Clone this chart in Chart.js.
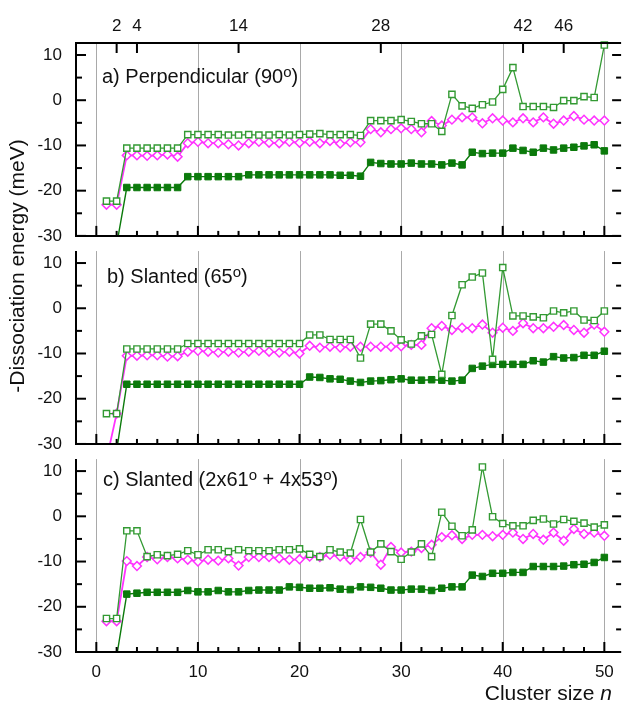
<!DOCTYPE html>
<html>
<head>
<meta charset="utf-8">
<title>Dissociation energy vs cluster size</title>
<script src="https://cdn.jsdelivr.net/npm/chart.js@4.4.1/dist/chart.umd.min.js"></script>
<style>
  body { margin: 0; background: #fff; }
  #wrap { position: relative; width: 627px; height: 702px; }
</style>
</head>
<body>
<div id="wrap"><canvas id="dissociation" width="627" height="702"></canvas></div>
<script>
const clusterSizes = [1, 2, 3, 4, 5, 6, 7, 8, 9, 10, 11, 12, 13, 14, 15, 16, 17, 18, 19, 20,
  21, 22, 23, 24, 25, 26, 27, 28, 29, 30, 31, 32, 33, 34, 35, 36, 37, 38, 39, 40,
  41, 42, 43, 44, 45, 46, 47, 48, 49, 50];
const topTicks = [2, 4, 14, 28, 42, 46];
const xTicks = [0, 10, 20, 30, 40, 50];
const yTicks = [-30, -20, -10, 0, 10];

// a) Perpendicular
const openA = [-22.3, -22.3, -10.6, -10.6, -10.6, -10.6, -10.6, -10.6, -7.6, -7.6,
  -7.6, -7.6, -7.7, -7.7, -7.6, -7.7, -7.7, -7.6, -7.7, -7.6,
  -7.5, -7.4, -7.6, -7.6, -7.6, -7.8, -4.5, -4.5, -4.5, -4.3,
  -4.7, -5.2, -5.2, -6.9, 1.3, -1.25, -1.8, -1.0, -0.4, 2.4,
  7.2, -1.4, -1.4, -1.4, -1.6, -0.1, -0.1, 0.8, 0.6, 12.2];
const diamondA = [-23.1, -23.1, -12.2, -12.2, -12.3, -12.2, -12.0, -12.5, -9.5, -9.2,
  -9.5, -9.5, -9.75, -10.0, -9.5, -9.2, -9.4, -9.5, -9.2, -9.4,
  -9.2, -9.5, -9.0, -9.6, -9.3, -9.3, -6.4, -7.1, -6.4, -6.2,
  -6.4, -7.1, -4.6, -5.6, -4.3, -3.8, -3.8, -5.1, -4.0, -4.5,
  -4.9, -4.0, -4.9, -3.8, -5.2, -4.5, -3.5, -4.3, -4.5, -4.5];
const filledA = [-35, -32, -19.3, -19.3, -19.3, -19.3, -19.3, -19.3, -16.9, -16.9,
  -16.9, -16.9, -16.9, -16.9, -16.5, -16.5, -16.5, -16.5, -16.5, -16.5,
  -16.5, -16.5, -16.5, -16.6, -16.6, -16.8, -13.75, -14.0, -14.1, -14.1,
  -13.9, -14.1, -14.1, -14.3, -13.9, -14.3, -11.5, -11.8, -11.7, -11.7,
  -10.6, -11.1, -11.5, -10.6, -11.0, -10.6, -10.4, -10.1, -9.85, -11.2];

// b) Slanted 65
const openB = [-23.3, -23.3, -9.0, -9.0, -9.0, -9.0, -9.0, -9.0, -7.8, -7.8,
  -7.8, -7.8, -7.8, -7.8, -7.8, -7.8, -7.8, -7.8, -7.8, -7.8,
  -5.9, -5.9, -6.9, -6.9, -6.9, -11.0, -3.5, -3.5, -5.0, -7.0,
  -7.9, -6.1, -5.8, -14.6, -1.6, 5.2, 6.9, 7.8, -11.3, 9.0,
  -1.7, -1.7, -1.9, -2.1, -0.6, -1.0, -0.6, -2.6, -2.7, -0.6];
const diamondB = [-33.5, -23.3, -10.5, -10.5, -10.4, -10.4, -10.7, -10.6, -9.6, -9.4,
  -9.6, -9.8, -9.6, -9.8, -9.6, -9.4, -9.6, -9.8, -9.6, -10.0,
  -8.3, -8.7, -8.5, -8.7, -8.5, -8.5, -8.5, -8.5, -8.5, -8.4,
  -8.1, -8.1, -4.4, -3.9, -4.8, -4.3, -4.4, -3.6, -5.4, -4.3,
  -5.0, -3.3, -4.4, -4.4, -4.1, -3.7, -4.8, -5.4, -3.6, -5.2];
const filledB = [-35, -31.5, -16.8, -16.8, -16.8, -16.8, -16.8, -16.8, -16.8, -16.8,
  -16.8, -16.8, -16.8, -16.8, -16.8, -16.8, -16.8, -16.8, -16.8, -16.8,
  -15.2, -15.3, -15.6, -15.7, -16.1, -16.4, -16.1, -16.0, -15.8, -15.6,
  -15.9, -15.9, -15.8, -15.9, -16.1, -15.9, -13.3, -12.8, -12.4, -12.4,
  -12.4, -12.4, -11.6, -11.9, -10.7, -11.0, -10.9, -10.4, -10.4, -9.5];

// c) Slanted 2x61 + 4x53
const openC = [-22.6, -22.6, -3.2, -3.2, -8.9, -8.5, -8.7, -8.4, -7.6, -8.5,
  -7.4, -7.4, -7.8, -7.4, -7.6, -7.6, -7.6, -7.4, -7.4, -7.2,
  -8.4, -8.9, -7.4, -7.9, -8.1, -0.7, -7.9, -6.1, -7.8, -9.5,
  -7.9, -6.1, -8.9, 0.9, -2.2, -4.3, -3.0, 10.9, -0.1, -1.6,
  -2.1, -2.1, -0.9, -0.6, -1.7, -0.7, -1.1, -1.5, -2.4, -1.9];
const diamondC = [-23.2, -23.2, -9.9, -11.0, -9.0, -9.5, -9.0, -9.3, -9.6, -10.0,
  -9.6, -9.8, -9.3, -10.9, -9.0, -9.0, -9.0, -9.3, -9.6, -9.5,
  -8.9, -9.0, -8.5, -8.9, -9.6, -9.0, -8.0, -10.7, -6.8, -8.0,
  -7.8, -7.0, -6.3, -4.6, -4.2, -5.0, -4.1, -4.1, -4.4, -4.1,
  -3.6, -5.0, -3.9, -5.2, -3.6, -5.4, -2.8, -3.9, -3.6, -4.3];
const filledC = [-31, -31, -17.2, -17.0, -16.8, -16.8, -16.8, -16.8, -16.4, -16.7,
  -16.7, -16.4, -16.7, -16.7, -16.4, -16.3, -16.3, -16.3, -15.6, -15.7,
  -15.9, -15.9, -15.8, -16.1, -16.2, -15.6, -15.7, -15.9, -16.3, -16.3,
  -16.1, -16.1, -16.4, -15.9, -15.6, -15.6, -13.0, -13.3, -12.6, -12.6,
  -12.4, -12.4, -11.1, -11.1, -11.1, -11.0, -10.7, -10.6, -10.2, -9.1];

const panelIds = ['ya', 'yb', 'yc'];
const panelMax = [12.65, 16, 16];
const frameTop = 12.65;
const panelTitles = [
  [['a) Perpendicular (90'], ['o', 1], [')']],
  [['b) Slanted (65'], ['o', 1], [')']],
  [['c) Slanted (2x61'], ['o', 1], [' + 4x53'], ['o', 1], [')']]
];
const series = [[openA, diamondA, filledA], [openB, diamondB, filledB], [openC, diamondC, filledC]];

const FONT = '"Liberation Sans", Arial, sans-serif';
const openGreen = '#339a33';
const darkGreen = '#0b7a0b';
const magenta = '#ff33ff';

function points(values) {
  return clusterSizes.map((n, i) => ({ x: n, y: values[i] }));
}

const datasets = [];
series.forEach((s, p) => {
  datasets.push({
    data: points(s[0]), yAxisID: panelIds[p],
    borderColor: openGreen, borderWidth: 1.3, backgroundColor: '#fff',
    pointStyle: 'rect', pointRadius: 4.4, pointBorderWidth: 1.4,
    pointBorderColor: openGreen, pointBackgroundColor: '#fff', clip: 8
  });
  datasets.push({
    data: points(s[1]), yAxisID: panelIds[p],
    borderColor: magenta, borderWidth: 1.8, backgroundColor: '#fff',
    pointStyle: 'rectRot', pointRadius: 4.4, pointBorderWidth: 1.5,
    pointBorderColor: magenta, pointBackgroundColor: '#fff', clip: 8
  });
  datasets.push({
    data: points(s[2]), yAxisID: panelIds[p],
    borderColor: darkGreen, borderWidth: 1.4, backgroundColor: darkGreen,
    pointStyle: 'rect', pointRadius: 4.6, pointBorderWidth: 1,
    pointBorderColor: darkGreen, pointBackgroundColor: darkGreen, clip: 8
  });
});

function drawRich(ctx, parts, x, y) {
  parts.forEach(([t, sup]) => {
    ctx.font = sup ? '15px ' + FONT : '20px ' + FONT;
    ctx.fillText(t, x, sup ? y - 6 : y);
    x += ctx.measureText(t).width;
  });
}

const framePlugin = {
  id: 'frame',
  beforeDatasetsDraw(chart) {
    const { ctx, scales } = chart;
    ctx.save();
    ctx.strokeStyle = '#a9a9a9';
    ctx.lineWidth = 1;
    panelIds.forEach(id => {
      const y = scales[id];
      const top = y.getPixelForValue(frameTop);
      xTicks.forEach(v => {
        const px = Math.round(scales.x.getPixelForValue(v)) + 0.5;
        ctx.beginPath();
        ctx.moveTo(px, top);
        ctx.lineTo(px, y.bottom);
        ctx.stroke();
      });
    });
    ctx.restore();
  },
  beforeDatasetDraw(chart, args) {
    const y = args.meta.yScale;
    chart.ctx.save();
    chart.ctx.beginPath();
    chart.ctx.rect(0, 0, chart.width, y.bottom);
    chart.ctx.clip();
  },
  afterDatasetDraw(chart) {
    chart.ctx.restore();
  },
  afterDraw(chart) {
    const { ctx, chartArea: a, scales } = chart;
    const x = scales.x;
    ctx.save();
    ctx.strokeStyle = '#000';
    ctx.fillStyle = '#111';
    ctx.lineWidth = 2;
    const line = (x1, y1, x2, y2) => {
      ctx.beginPath(); ctx.moveTo(x1, y1); ctx.lineTo(x2, y2); ctx.stroke();
    };
    // top axis with its magic-number ticks
    line(a.left - 1, a.top, a.right, a.top);
    topTicks.forEach(v => {
      const px = x.getPixelForValue(v);
      line(px, a.top, px, a.top + 10);
    });
    panelIds.forEach((id, p) => {
      const y = scales[id];
      const top = y.getPixelForValue(frameTop);
      line(a.left, top, a.left, y.bottom + 1);
      line(a.left - 1, y.bottom, a.right, y.bottom);
      for (let v = -2; v <= 50; v += 2) {
        const px = x.getPixelForValue(v);
        line(px, y.bottom, px, y.bottom - (v % 10 === 0 ? 10 : 5));
      }
      for (let v = -30; v <= 10; v += 5) {
        const py = y.getPixelForValue(v);
        const major = v % 10 === 0;
        line(a.left, py, a.left + (major ? 10 : 6), py);
        line(a.right, py, a.right - (major ? 9 : 5), py);
      }
      ctx.textAlign = 'left';
      ctx.textBaseline = 'alphabetic';
      drawRich(ctx, panelTitles[p], a.left + [26, 31, 27][p], top + [40, 32, 27][p]);
    });
    // axis titles
    ctx.font = '21px ' + FONT;
    ctx.save();
    ctx.translate(18, 266);
    ctx.rotate(-Math.PI / 2);
    ctx.textAlign = 'center';
    ctx.textBaseline = 'middle';
    ctx.fillText('-Dissociation energy (meV)', 0, 0);
    ctx.restore();
    const w1 = ctx.measureText('Cluster size ').width;
    ctx.font = 'italic 21px ' + FONT;
    const w2 = ctx.measureText('n').width;
    const xs = 612 - w1 - w2;
    ctx.textAlign = 'left';
    ctx.font = '21px ' + FONT;
    ctx.fillText('Cluster size ', xs, 700);
    ctx.font = 'italic 21px ' + FONT;
    ctx.fillText('n', xs + w1, 700);
    ctx.restore();
  }
};

const yScale = (p) => ({
  type: 'linear',
  position: 'left',
  stack: 'panels',
  stackWeight: panelMax[p] + 30,
  weight: 3 - p,
  min: -30,
  max: panelMax[p],
  afterBuildTicks: s => { s.ticks = yTicks.map(v => ({ value: v })); },
  afterFit: s => { s.width = 76; },
  grid: { display: false, drawTicks: false },
  border: { display: false },
  ticks: { padding: 14, color: '#111', font: { family: FONT, size: 17 } }
});

new Chart(document.getElementById('dissociation'), {
  type: 'line',
  data: { datasets: datasets },
  options: {
    responsive: false,
    animation: false,
    layout: { padding: 0 },
    plugins: { legend: { display: false }, tooltip: { enabled: false } },
    scales: {
      x: {
        type: 'linear', position: 'bottom', min: -2, max: 51.65,
        afterBuildTicks: s => { s.ticks = xTicks.map(v => ({ value: v })); },
        afterFit: s => { s.height = 50; },
        grid: { display: false, drawTicks: false },
        border: { display: false },
        ticks: { padding: 10, maxRotation: 0, color: '#111', font: { family: FONT, size: 17 } }
      },
      x2: {
        type: 'linear', position: 'top', min: -2, max: 51.65,
        afterBuildTicks: s => { s.ticks = topTicks.map(v => ({ value: v })); },
        afterFit: s => { s.height = 43; },
        grid: { display: false, drawTicks: false },
        border: { display: false },
        ticks: { padding: 6, maxRotation: 0, autoSkip: false, color: '#111', font: { family: FONT, size: 17 } }
      },
      ya: yScale(0),
      yb: yScale(1),
      yc: yScale(2)
    }
  },
  plugins: [framePlugin]
});
</script>
</body>
</html>
